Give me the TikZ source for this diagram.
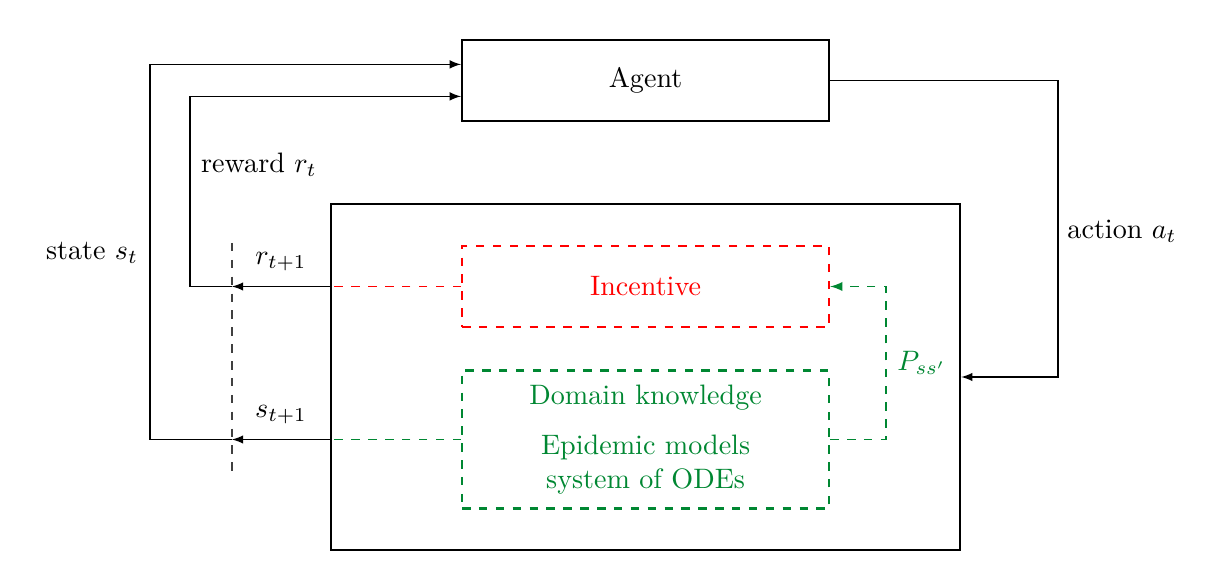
\documentclass[tikz,border=0pt]{standalone}
\usepackage{amsmath}
\usepackage{xcolor}
\usetikzlibrary{calc}
\definecolor{odegreen}{RGB}{0,135,50}
\tikzset{>=latex}
\tikzset{
    bigbox/.style={draw, thick, minimum width=4.5875cm, minimum height=1.0125cm},
    flow/.style={thin, ->},
    feed/.style={line width=0.5pt, dashed}
}

\begin{document}
\begin{tikzpicture}
    \useasboundingbox (0,0) rectangle (15.125,7.275);
    % agent and environment
    \node[bigbox] (agent) at (8.07,6.27) {Agent};
    \node[draw, thick, minimum width=7.8625cm, minimum height=4.325cm] (env) at (8.07,2.5625) {};
    \node[bigbox, red, dashed] (incentive) at (8.07,3.69375) {Incentive};
    \node[bigbox, odegreen, dashed, minimum height=1.725cm] (domain) at (8.07,1.78125) {};
    \node[odegreen] (dk) at (8.07,2.30) {Domain knowledge};
    \node[odegreen, align=center] (ode) at (8.07,1.465) {Epidemic models\\system of ODEs};
    % time step separator
    \coordinate (top) at (2.9,4.2375);
    \coordinate (bot) at (2.9,1.3125);
    \draw[feed, black!75] (top) -- (bot);
    \coordinate (rleft) at (2.375,0);
    \coordinate (sleft) at (1.875,0);
    \coordinate (aright) at (13.225,0);
    \coordinate (pright) at (11.075,0);
    % outputs of the environment
    \draw[feed, red] (incentive.west) -- (incentive.west -| env.west);
    \draw[feed, odegreen] (domain.west) -- (domain.west -| env.west);
    \draw[flow] (incentive.west -| env.west) -- (incentive.west -| top) node[midway, above=2pt] {$r_{t+1}$};
    \draw[flow] (domain.west -| env.west) -- (domain.west -| top) node[midway, above=2pt] {$s_{t+1}$};
    \draw[feed, odegreen, ->] (domain.east) -- (domain.east -| pright) |- (incentive.east)
        node[pos=0.25, right=0.5pt] {$P_{ss'}$};
    % loop back to the agent
    \draw[flow] (incentive.west -| top) -- (incentive.west -| rleft) |- ($(agent.west)+(0,-0.2)$);
    \draw[flow] (domain.west -| top) -- (domain.west -| sleft) |- ($(agent.west)+(0,0.2)$);
    \draw[flow] (agent.east) -- (agent.east -| aright) |- (env.east);
    \node (reward) at (3.2375,5.2125) {reward $r_t$};
    \node (state) at (1.15,4.1125) {state $s_t$};
    \node (action) at (14.025,4.3875) {action $a_t$};
\end{tikzpicture}
\end{document}
